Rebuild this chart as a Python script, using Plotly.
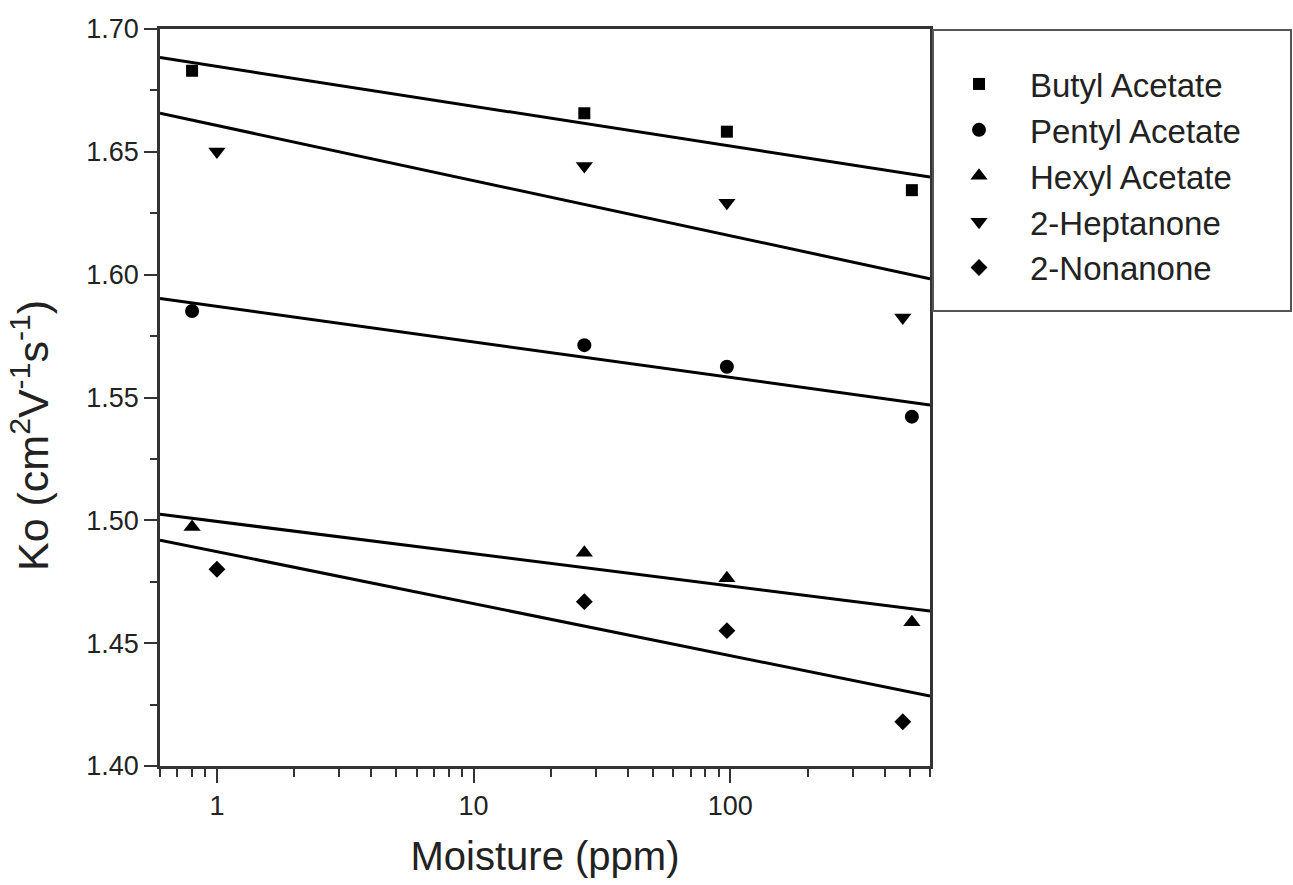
import numpy as np
import plotly.graph_objects as go

# ---- data ----
names = ["Butyl Acetate", "Pentyl Acetate", "Hexyl Acetate", "2-Heptanone", "2-Nonanone"]
symbols = ["square", "circle", "triangle-up", "triangle-down", "diamond"]
msizes = [12, 14, 15, 15, 13]

x_butyl = [0.8, 27, 97, 510]
y_butyl = [1.683, 1.6657, 1.6582, 1.6344]
x_pentyl = [0.8, 27, 97, 510]
y_pentyl = [1.5852, 1.5713, 1.5625, 1.5422]
x_hexyl = [0.8, 27, 97, 510]
y_hexyl = [1.4973, 1.4868, 1.4764, 1.4585]
x_hept = [1.0, 27, 97, 470]
y_hept = [1.6501, 1.6442, 1.6293, 1.5826]
x_non = [1.0, 27, 97, 470]
y_non = [1.4801, 1.4669, 1.4551, 1.418]

xs = [x_butyl, x_pentyl, x_hexyl, x_hept, x_non]
ys = [y_butyl, y_pentyl, y_hexyl, y_hept, y_non]

x_range = [0.6, 600]
y_range = [1.40, 1.70]
x_major = [1, 10, 100]
x_major_text = ["1", "10", "100"]
x_minor = [0.6, 0.7, 0.8, 0.9, 2, 3, 4, 5, 6, 7, 8, 9,
           20, 30, 40, 50, 60, 70, 80, 90, 200, 300, 400, 500, 600]

W, H = 1293, 885
L, R, T, B = 160, 930, 29, 766

FONT = "Liberation Sans, Arial, sans-serif"
TXT = "#222222"
AX = "#333333"

fig = go.Figure()
for name, sym, ms, x, y in zip(names, symbols, msizes, xs, ys):
    # linear fit of Ko vs log10(moisture), drawn across the full axis
    k, b = np.polyfit(np.log10(x), y, 1)
    xf = np.array(x_range)
    fig.add_trace(go.Scatter(x=xf, y=k * np.log10(xf) + b, mode="lines",
                             line=dict(color="black", width=3),
                             showlegend=False, hoverinfo="skip"))
for name, sym, ms, x, y in zip(names, symbols, msizes, xs, ys):
    fig.add_trace(go.Scatter(x=x, y=y, mode="markers", name=name,
                             marker=dict(symbol=sym, size=ms, color="black",
                                         line=dict(width=0))))

fig.update_xaxes(type="log", range=[np.log10(x_range[0]), np.log10(x_range[1])],
                 tickmode="array", tickvals=x_major, ticktext=x_major_text,
                 ticks="outside", ticklen=14, tickwidth=2, tickcolor=AX,
                 showline=True, linewidth=2.5, linecolor=AX, mirror=True,
                 showgrid=False, zeroline=False,
                 tickfont=dict(family=FONT, size=27, color=TXT),
                 minor=dict(tickmode="array", tickvals=x_minor, ticks="outside",
                            ticklen=8, tickwidth=2, tickcolor=AX, showgrid=False),
                 title=dict(text="Moisture (ppm)", font=dict(family=FONT, size=40, color=TXT),
                            standoff=22))
fig.update_yaxes(range=y_range, dtick=0.05, tick0=1.40, tickformat=".2f",
                 ticks="outside", ticklen=13, tickwidth=2, tickcolor=AX,
                 showline=True, linewidth=2.5, linecolor=AX, mirror=True,
                 showgrid=False, zeroline=False,
                 tickfont=dict(family=FONT, size=27, color=TXT),
                 minor=dict(dtick=0.025, ticks="outside", ticklen=7, tickwidth=2,
                            tickcolor=AX, showgrid=False))

pw, ph = R - L, B - T
def px(xp):
    return (xp - L) / pw
def py(yp):
    return (B - yp) / ph

fig.add_annotation(text="Ko (cm<sup>2</sup>V<sup>-1</sup>s<sup>-1</sup>)",
                   xref="paper", yref="paper", x=px(30), y=py(436),
                   textangle=-90, showarrow=False, xanchor="center", yanchor="middle",
                   font=dict(family=FONT, size=43, color=TXT))

# legend frame
fig.add_shape(type="rect", xref="paper", yref="paper",
              x0=px(933), x1=px(1291), y0=py(311), y1=py(30),
              line=dict(color="#555555", width=2), fillcolor="rgba(0,0,0,0)")

fig.update_layout(
    width=W, height=H,
    margin=dict(l=L, r=W - R, t=T, b=H - B, autoexpand=False),
    paper_bgcolor="white", plot_bgcolor="white",
    showlegend=True,
    legend=dict(x=px(928), y=py(56), xanchor="left", yanchor="top",
                bgcolor="rgba(0,0,0,0)", borderwidth=0,
                font=dict(family=FONT, size=33, color=TXT),
                itemwidth=92, tracegroupgap=0),
)

fig.write_html("out.html", config={"displayModeBar": False},
               post_script="document.body.style.margin='0';")
